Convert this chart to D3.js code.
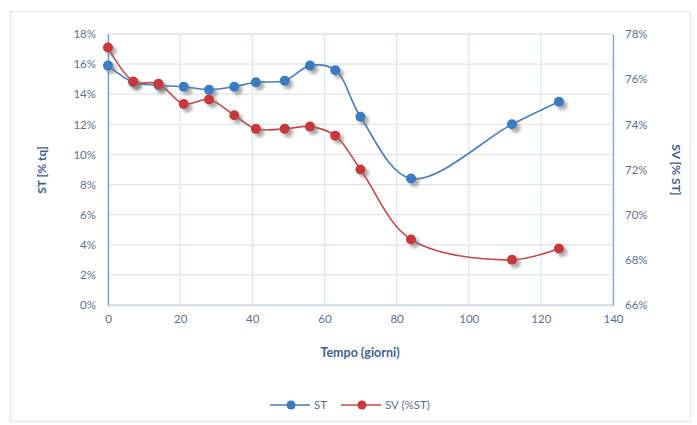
<!DOCTYPE html>
<html><head><meta charset="utf-8">
<script src="https://cdn.jsdelivr.net/npm/d3@7"></script>
<style>body{margin:0;background:#fff}svg{display:block;font-family:Lato,"Open Sans",sans-serif}</style>
</head><body><svg id="c" width="697" height="425"></svg>
<script>
const days = [0, 7, 14, 21, 28, 35, 41, 49, 56, 63, 70, 84, 112, 125];
const stValues = [15.9, 14.8, 14.6, 14.5, 14.3, 14.5, 14.8, 14.9, 15.9, 15.6, 12.5, 8.4, 12.0, 13.5];
const svValues = [77.4, 75.9, 75.8, 74.9, 75.1, 74.4, 73.8, 73.8, 73.9, 73.5, 72.0, 68.9, 68.0, 68.5];
const xTicks = [0, 20, 40, 60, 80, 100, 120, 140];
const leftTicks = [0, 2, 4, 6, 8, 10, 12, 14, 16, 18];
const rightTicks = [66, 68, 70, 72, 74, 76, 78];
const seriesNames = ["ST", "SV (%ST)"];
const colors = {st: "#3a7bc0", sv: "#c8383a", stLine: "#4a7db5", svLine: "#c24848"};

const svg = d3.select("#c");
const m = {l: 108, r: 613, t: 34, b: 305};
const x = d3.scaleLinear().domain([0, 140]).range([m.l, m.r]);
const yL = d3.scaleLinear().domain([0, 18]).range([m.b, m.t]);
const yR = d3.scaleLinear().domain([66, 78]).range([m.b, m.t]);

const defs = svg.append("defs");
const f = defs.append("filter").attr("id", "sh").attr("x", "-50%").attr("y", "-50%").attr("width", "250%").attr("height", "250%");
f.append("feDropShadow").attr("dx", 3.5).attr("dy", 3.5).attr("stdDeviation", 1.8).attr("flood-color", "#777").attr("flood-opacity", 0.6);

// chart border
svg.append("rect").attr("x", 10.5).attr("y", 11.5).attr("width", 680).attr("height", 410)
  .attr("fill", "none").attr("stroke", "#e3e6ea").attr("stroke-width", 1.5);

// gridlines
svg.append("g").selectAll("line").data(leftTicks).join("line")
  .attr("x1", m.l).attr("x2", m.r).attr("y1", d => yL(d)).attr("y2", d => yL(d))
  .attr("stroke", "#dfe5ec").attr("stroke-width", 1.3);
svg.append("g").selectAll("line").data(xTicks).join("line")
  .attr("x1", d => x(d)).attr("x2", d => x(d)).attr("y1", m.t).attr("y2", m.b)
  .attr("stroke", "#dde7f1").attr("stroke-width", 1.3);

const tickColor = "#5d6f8d";
// axes
const ax = svg.append("g").attr("transform", `translate(0,${m.b})`)
  .call(d3.axisBottom(x).tickValues(xTicks).tickSize(0).tickPadding(10));
const ayl = svg.append("g").attr("transform", `translate(${m.l},0)`)
  .call(d3.axisLeft(yL).tickValues(leftTicks).tickFormat(d => d + "%").tickSize(0).tickPadding(12));
const ayr = svg.append("g").attr("transform", `translate(${m.r},0)`)
  .call(d3.axisRight(yR).tickValues(rightTicks).tickFormat(d => d + "%").tickSize(0).tickPadding(12));
[ax, ayl, ayr].forEach(g => {
  g.selectAll("text").attr("fill", tickColor).attr("font-size", 11.5).attr("font-family", "Lato, sans-serif");
});
ax.select(".domain").attr("stroke", "#cfd8e4").attr("stroke-width", 1.3);
ayl.select(".domain").attr("stroke", "#6a9bd0").attr("stroke-width", 1.3);
ayr.select(".domain").attr("stroke", "#8aa6c8").attr("stroke-width", 1.3);

// axis titles
const titleColor = "#43618f";
svg.append("text").attr("x", 360).attr("y", 357).attr("text-anchor", "middle")
  .attr("font-weight", "bold").attr("font-size", 12.5).attr("fill", titleColor).text("Tempo (giorni)");
svg.append("text").attr("transform", "translate(46,170) rotate(-90)").attr("text-anchor", "middle")
  .attr("font-weight", "bold").attr("font-size", 12).attr("fill", titleColor).text("ST [% tq]");
svg.append("text").attr("transform", "translate(672,170) rotate(90)").attr("text-anchor", "middle")
  .attr("font-weight", "bold").attr("font-size", 12).attr("fill", titleColor).text("SV [% ST]");

// lines
const curve = d3.curveCatmullRom.alpha(0.5);
const stData = days.map((d, i) => [d, stValues[i]]);
const svData = days.map((d, i) => [d, svValues[i]]);
const lineL = d3.line().x(d => x(d[0])).y(d => yL(d[1])).curve(curve);
const lineR = d3.line().x(d => x(d[0])).y(d => yR(d[1])).curve(curve);

svg.append("path").attr("d", lineL(stData)).attr("fill", "none").attr("stroke", colors.stLine).attr("stroke-width", 1.6);
svg.append("g").attr("filter", "url(#sh)").selectAll("circle").data(stData).join("circle")
  .attr("cx", d => x(d[0])).attr("cy", d => yL(d[1])).attr("r", 5).attr("fill", colors.st);
svg.append("path").attr("d", lineR(svData)).attr("fill", "none").attr("stroke", colors.svLine).attr("stroke-width", 1.6);
svg.append("g").attr("filter", "url(#sh)").selectAll("circle").data(svData).join("circle")
  .attr("cx", d => x(d[0])).attr("cy", d => yR(d[1])).attr("r", 5).attr("fill", colors.sv);

// legend
const leg = [{name: seriesNames[0], c: colors.st, lc: colors.stLine, x0: 270}, {name: seriesNames[1], c: colors.sv, lc: colors.svLine, x0: 341}];
const lg = svg.append("g");
leg.forEach(l => {
  lg.append("line").attr("x1", l.x0).attr("x2", l.x0 + 40).attr("y1", 405).attr("y2", 405).attr("stroke", l.lc).attr("stroke-width", 1.6);
  lg.append("circle").attr("cx", l.x0 + 21).attr("cy", 405).attr("r", 4.5).attr("fill", l.c);
  lg.append("text").attr("x", l.x0 + 44).attr("y", 409).attr("font-size", 11.5).attr("fill", tickColor).text(l.name);
});
</script></body></html>
